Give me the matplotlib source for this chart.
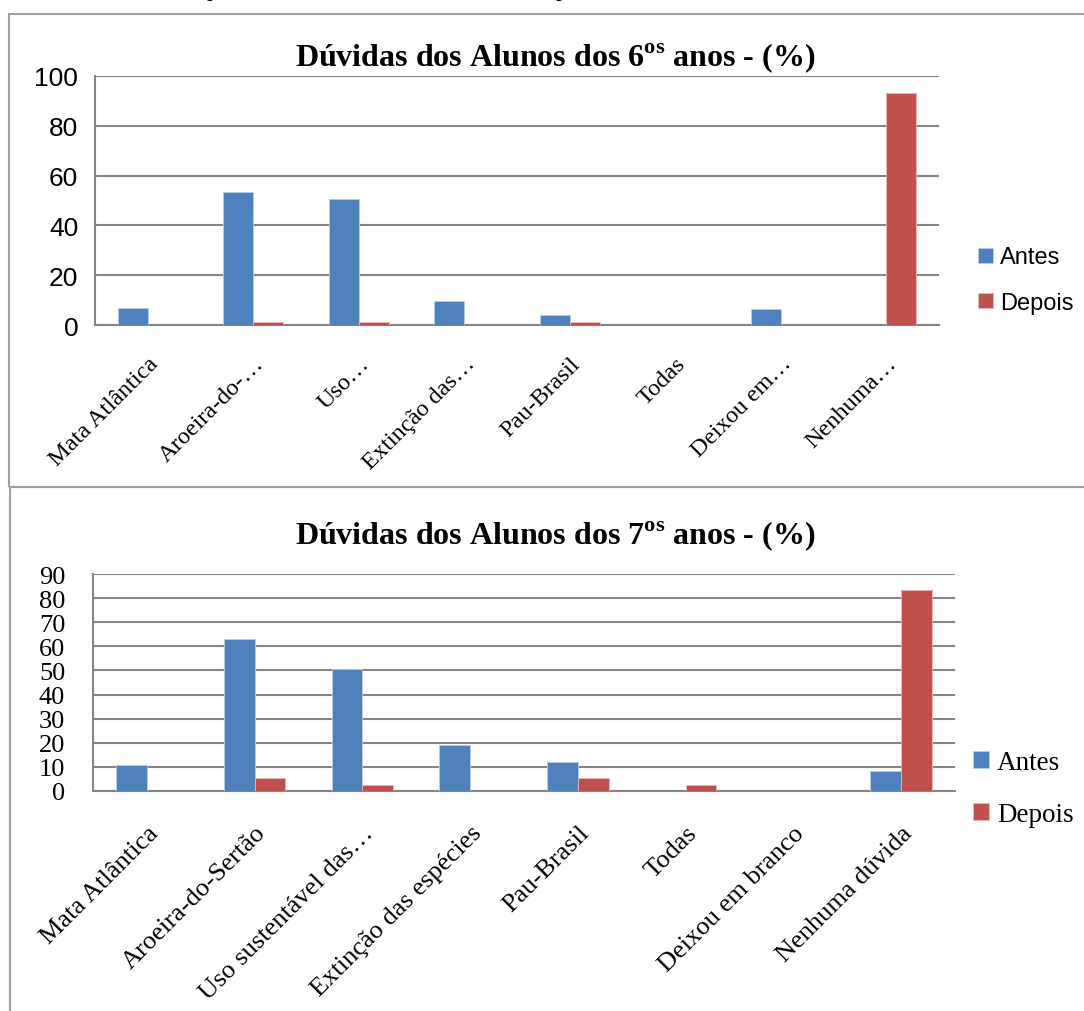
import matplotlib.pyplot as plt
import numpy as np
from matplotlib.patches import Rectangle

plt.rcParams['mathtext.fontset'] = 'custom'
plt.rcParams['mathtext.rm'] = 'Liberation Serif:bold'

# 6th grade (top chart)
cats_6 = ['Mata Atlântica', 'Aroeira-do-…', 'Uso…', 'Extinção das…',
          'Pau-Brasil', 'Todas', 'Deixou em…', 'Nenhuma…']
antes_6 = [6.8, 53.3, 50.5, 9.5, 4.1, 0, 6.6, 0]
depois_6 = [0, 1.4, 1.4, 0, 1.4, 0, 0, 93.3]

# 7th grade (bottom chart)
cats_7 = ['Mata Atlântica', 'Aroeira-do-Sertão', 'Uso sustentável das…',
          'Extinção das espécies', 'Pau-Brasil', 'Todas', 'Deixou em branco',
          'Nenhuma dúvida']
antes_7 = [10.8, 62.9, 50.5, 19.1, 12.2, 0, 0, 8.2]
depois_7 = [0, 5.4, 2.6, 0, 5.4, 2.6, 0, 83.5]

BLUE = '#4F81BD'
RED = '#C0504D'
GRID = '#868686'
W, H = 1084, 1012

fig = plt.figure(figsize=(W / 100, H / 100), dpi=100)


def px_axes(x0, y_top, x1, y_bot):
    return fig.add_axes([x0 / W, 1 - y_bot / H, (x1 - x0) / W, (y_bot - y_top) / H])


# chart frames
fig.patches.append(Rectangle((9 / W, 1 - 488 / H), 1.2, (488 - 15) / H,
                             transform=fig.transFigure, fill=False,
                             edgecolor='#A0A0A0', linewidth=1.5))
fig.patches.append(Rectangle((10 / W, -0.1), 1.2, 0.1 + (1012 - 488) / H,
                             transform=fig.transFigure, fill=False,
                             edgecolor='#A0A0A0', linewidth=1.5))

# cut-off document text at the very top
fig.text(207 / W, 1 + 4 / H, 'p', fontsize=17, family='Liberation Serif', va='baseline')
fig.text(556 / W, 1 + 4 / H, 'p', fontsize=17, family='Liberation Serif', va='baseline')


def draw(ax, cats, antes, depois, ymax, step, tickfont, tsize, ypad, lblsize, xpad,
         legfont, legsize, legx, legy):
    x = np.arange(len(cats))
    bw = 1 / 3.5
    ax.bar(x - bw / 2, antes, bw, color=BLUE, edgecolor='#B9CDE5', linewidth=0.6, label='Antes', zorder=3)
    ax.bar(x + bw / 2, depois, bw, color=RED, edgecolor='#E6B9B8', linewidth=0.6, label='Depois', zorder=3)
    ax.set_xlim(-0.5, len(cats) - 0.5)
    ax.set_ylim(0, ymax)
    ax.set_yticks(np.arange(0, ymax + 1, step))
    ax.yaxis.grid(True, color=GRID, linewidth=1.5, zorder=0)
    ax.set_axisbelow(True)
    for s in ['top', 'right']:
        ax.spines[s].set_visible(False)
    for s in ['left', 'bottom']:
        ax.spines[s].set_color(GRID)
        ax.spines[s].set_linewidth(1.5)
    ax.tick_params(length=0)
    ax.tick_params(axis='y', pad=ypad)
    ax.tick_params(axis='x', pad=xpad)
    ax.set_xticks(x)
    ax.set_xticklabels(cats, rotation=45, ha='right', rotation_mode='anchor',
                       family='Liberation Serif', fontsize=lblsize)
    for t in ax.get_yticklabels():
        t.set_family(tickfont)
        t.set_fontsize(tsize)
    ax.legend(loc='center left', bbox_to_anchor=(legx, legy),
              frameon=False, prop={'family': legfont, 'size': legsize},
              handlelength=0.6, handleheight=0.6, handletextpad=0.3,
              labelspacing=1.0, borderaxespad=0)


ax1 = px_axes(95, 77, 939, 326)
draw(ax1, cats_6, antes_6, depois_6, 100, 20, 'Liberation Sans', 19, 12, 17.5, 20,
     'Liberation Sans', 17, (969 - 95) / (939 - 95), 0.18)
ax1.set_title(r'Dúvidas dos Alunos dos 6$^{\mathrm{os}}$ anos - (%)', family='Liberation Serif',
              fontweight='bold', fontsize=23, pad=8, x=(555 - 95) / (939 - 95))

ax2 = px_axes(93, 575, 955, 792)
draw(ax2, cats_7, antes_7, depois_7, 90, 10, 'Liberation Serif', 19, 20, 19, 22,
     'Liberation Serif', 19.5, (962 - 93) / (955 - 93), 0.01)
ax2.set_title(r'Dúvidas dos Alunos dos 7$^{\mathrm{os}}$ anos - (%)', family='Liberation Serif',
              fontweight='bold', fontsize=23, pad=22, x=(555 - 93) / (955 - 93))

fig.savefig('out.png', dpi=100)
